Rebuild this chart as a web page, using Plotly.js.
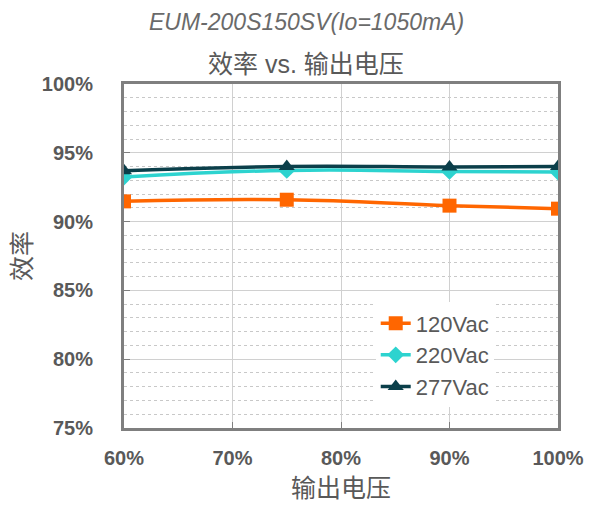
<!DOCTYPE html>
<html><head><meta charset="utf-8">
<script src="https://cdn.plot.ly/plotly-3.0.1.min.js"></script>
<style>body{margin:0;padding:0;background:#fff}#chart{width:589px;height:506px}</style>
</head><body><div id="chart"></div>
<script>
const outputVoltage = [0.60, 0.75, 0.90, 1.00];
const eff120 = [0.9147, 0.9159, 0.9116, 0.9094];
const eff220 = [0.9324, 0.9372, 0.9365, 0.9360];
const eff277 = [0.9370, 0.9401, 0.9397, 0.9400];
const seriesNames = ['120Vac', '220Vac', '277Vac'];
const xTicks = [0.6, 0.7, 0.8, 0.9, 1.0];
const yTicks = [0.75, 0.80, 0.85, 0.90, 0.95, 1.00];

const gray = '#595959';
const cjk = '"Liberation Sans", Arial, "Noto Sans CJK SC", sans-serif';

const traces = [
  {x: outputVoltage, y: eff120, name: seriesNames[0], mode: 'lines+markers',
   line: {color: '#FF6600', width: 3.5, shape: 'spline', smoothing: 1.3},
   marker: {symbol: 'square', size: 14, color: '#FF6600'}},
  {x: outputVoltage, y: eff220, name: seriesNames[1], mode: 'lines+markers',
   line: {color: '#2DD3CF', width: 3.5, shape: 'spline', smoothing: 1.3},
   marker: {symbol: 'diamond', size: 13, color: '#2DD3CF'}},
  {x: outputVoltage, y: eff277, name: seriesNames[2], mode: 'lines+markers',
   line: {color: '#0B3F4A', width: 3.5, shape: 'spline', smoothing: 1.3},
   marker: {symbol: 'triangle-up', size: 14, color: '#0B3F4A'}}
];

const layout = {
  width: 589, height: 506,
  margin: {l: 124, r: 31, t: 84, b: 78},
  paper_bgcolor: '#fff', plot_bgcolor: '#fff',
  font: {family: cjk, color: gray},
  showlegend: true,
  legend: {x: 0.58, y: 0.365, xanchor: 'left', yanchor: 'top', bgcolor: 'rgba(255,255,255,1)',
           font: {size: 22, color: gray, family: cjk}, itemwidth: 30, tracegroupgap: 0},
  xaxis: {range: [0.6, 1.0], tickvals: xTicks, tickformat: '.0%',
          tickfont: {size: 20, color: gray, family: cjk, weight: 'bold'},
          ticklabelstandoff: 10,
          showgrid: true, gridcolor: '#d0d0d0', gridwidth: 1,
          showline: true, linecolor: '#7f7f7f', linewidth: 3, mirror: true,
          ticks: 'inside', ticklen: 6, tickcolor: '#7f7f7f', tickwidth: 1,
          zeroline: false, fixedrange: true,
          title: {text: '输出电压', font: {size: 25, color: gray, family: cjk}, standoff: 12}},
  yaxis: {range: [0.75, 1.0], tickvals: yTicks, tickformat: '.0%',
          tickfont: {size: 20, color: gray, family: cjk, weight: 'bold'},
          ticklabelstandoff: 24,
          showgrid: true, gridcolor: '#d0d0d0', gridwidth: 1,
          minor: {dtick: 0.01, showgrid: true, gridcolor: '#c8c8c8', griddash: 'dot', gridwidth: 1, ticks: ''},
          showline: true, linecolor: '#7f7f7f', linewidth: 3, mirror: true,
          ticks: 'inside', ticklen: 6, tickcolor: '#7f7f7f', tickwidth: 1,
          zeroline: false, fixedrange: true,
          title: {text: '效率', font: {size: 25, color: gray, family: cjk}, standoff: 4}},
  annotations: [
    {text: '<i>EUM-200S150SV(Io=1050mA)</i>', xref: 'paper', yref: 'paper', x: 0.42, y: 1.0, yshift: 62,
     showarrow: false, font: {size: 23, color: '#6a6a6a', family: cjk}, xanchor: 'center', yanchor: 'middle'},
    {text: '效率 vs. 输出电压', xref: 'paper', yref: 'paper', x: 0.42, y: 1.0, yshift: 20,
     showarrow: false, font: {size: 25, color: gray, family: cjk}, xanchor: 'center', yanchor: 'middle'}
  ]
};

Plotly.newPlot('chart', traces, layout, {staticPlot: true, displayModeBar: false});
</script></body></html>
